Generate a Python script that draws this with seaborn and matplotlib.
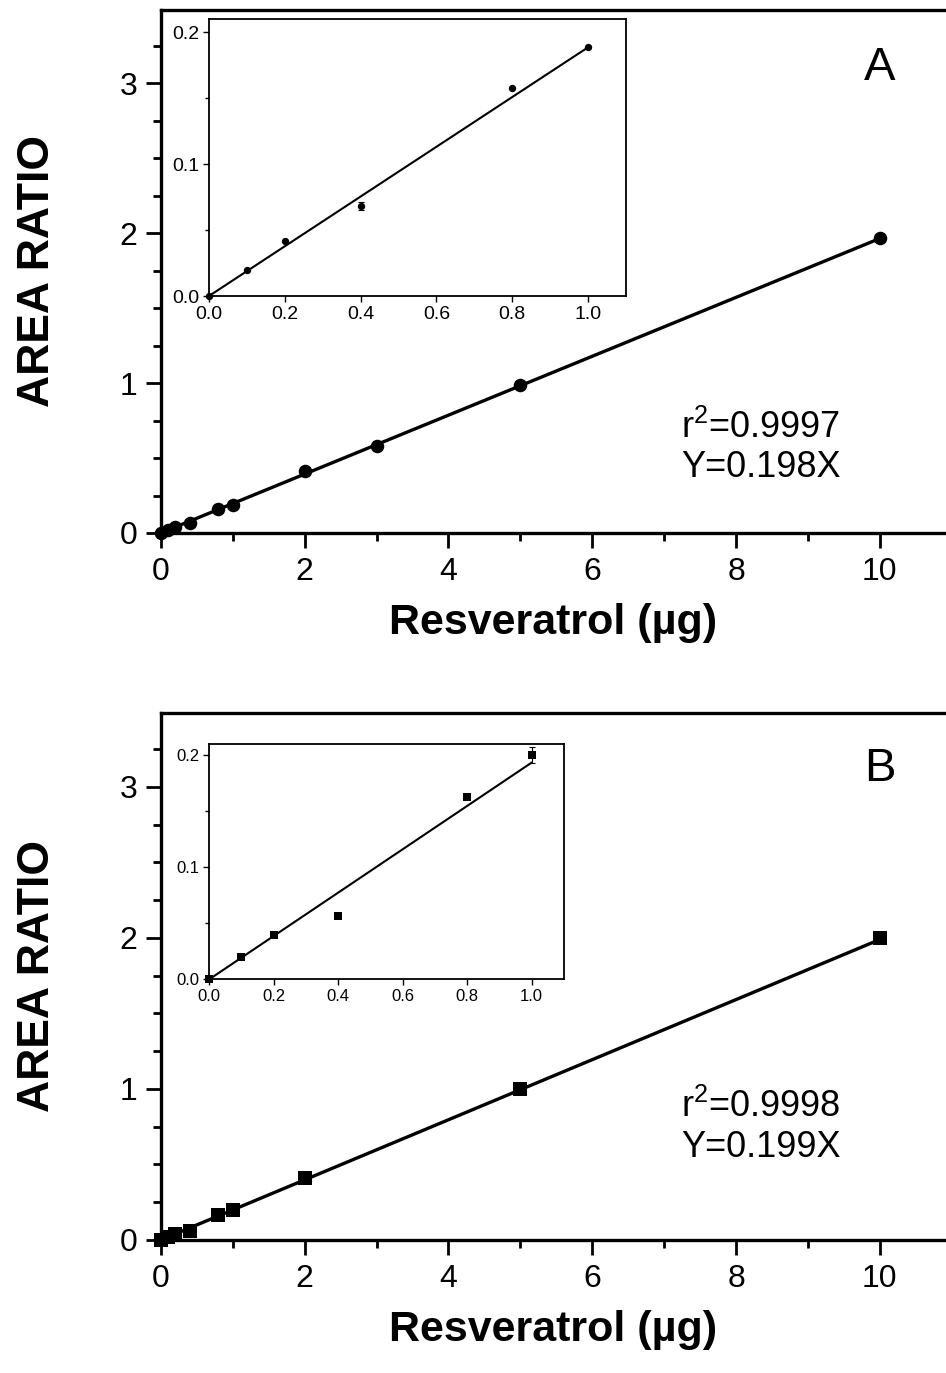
import numpy as np
import pandas as pd
import matplotlib
matplotlib.use("Agg")
import matplotlib.pyplot as plt
import seaborn as sns
from matplotlib.ticker import MultipleLocator, FormatStrFormatter

sns.set_theme(style="ticks")
plt.rcParams['font.family'] = ['Liberation Sans', 'DejaVu Sans']
plt.rcParams['mathtext.fontset'] = 'custom'
plt.rcParams['mathtext.rm'] = 'Liberation Sans'
for k in ['text.color', 'axes.labelcolor', 'xtick.color', 'ytick.color', 'axes.edgecolor']:
    plt.rcParams[k] = 'black'

# ---------------- data ----------------
conc = [0, 0.1, 0.2, 0.4, 0.8, 1.0, 2, 3, 5, 10]
ratio_A = [0, 0.020, 0.041, 0.068, 0.158, 0.1885, 0.413, 0.58, 0.987, 1.967]
conc_B = [0, 0.1, 0.2, 0.4, 0.8, 1.0, 2, 5, 10]
ratio_B = [0, 0.0197, 0.0397, 0.057, 0.1626, 0.200, 0.413, 1.0, 2.0]

inset_conc = [0, 0.1, 0.2, 0.4, 0.8, 1.0]
inset_A = [0, 0.020, 0.0414, 0.068, 0.158, 0.1885]
inset_A_err = [0, 0, 0, 0.003, 0, 0]
inset_B = [0, 0.0197, 0.0397, 0.057, 0.1626, 0.200]
inset_B_err = [0, 0, 0, 0, 0, 0.007]

fit_main_x = [0, 10]
fit_A_main_y = [0, 1.965]
fit_B_main_y = [0, 1.99]
fit_inset_x = [0, 1.0]
fit_A_inset_y = [0, 0.1885]
fit_B_inset_y = [0, 0.1935]

stats_A = ["r$^\\mathregular{2}$=0.9997", "Y=0.198X"]
stats_B = ["r$^\\mathregular{2}$=0.9998", "Y=0.199X"]
panel_labels = ["A", "B"]
xlabel = "Resveratrol (\u00b5g)"
ylabel = "AREA RATIO"

# ---------------- figure ----------------
fig = plt.figure(figsize=(9.46, 13.73), dpi=100)

def main_axes(rect, x, y, fx, fy, marker, stats, label, stat_y, lab_y):
    ax = fig.add_axes(rect)
    df = pd.DataFrame({"x": x, "y": y})
    sns.lineplot(x=fx, y=fy, ax=ax, color="black", lw=2.4)
    sns.scatterplot(data=df, x="x", y="y", ax=ax, color="black", marker=marker,
                    s=95, edgecolor="black", linewidth=0, clip_on=False, zorder=5)
    ax.set_xlim(0, 10.92)
    ax.set_ylim(0, 3.49)
    ax.xaxis.set_major_locator(MultipleLocator(2))
    ax.xaxis.set_minor_locator(MultipleLocator(1))
    ax.yaxis.set_major_locator(MultipleLocator(1))
    ax.yaxis.set_minor_locator(MultipleLocator(0.25))
    ax.tick_params(which="major", direction="out", length=11, width=2, labelsize=23, pad=6, colors="black")
    ax.tick_params(which="minor", direction="out", length=6, width=2)
    for s in ["left", "bottom", "top"]:
        ax.spines[s].set_linewidth(2.4)
        ax.spines[s].set_color("black")
    ax.spines["right"].set_visible(False)
    ax.set_xlabel(xlabel, fontsize=31, fontweight="bold", labelpad=12)
    ax.set_ylabel(ylabel, fontsize=32, fontweight="bold", labelpad=44)
    ax.text(7.24, stat_y[0], stats[0], fontsize=26, va="center", ha="left")
    ax.text(7.24, stat_y[1], stats[1], fontsize=26, va="center", ha="left")
    ax.text(10.0, lab_y, label, fontsize=34, va="center", ha="center")
    return ax

def inset_axes(rect, x, y, err, fx, fy, marker, fs, ms):
    ax = fig.add_axes(rect)
    sns.lineplot(x=fx, y=fy, ax=ax, color="black", lw=1.5)
    ax.errorbar(x, y, yerr=err, fmt="none", ecolor="black", elinewidth=0.8, capsize=2, capthick=0.8)
    sns.scatterplot(x=x, y=y, ax=ax, color="black", marker=marker, s=ms,
                    linewidth=0, clip_on=False, zorder=5)
    ax.set_xlim(0, 1.1)
    ax.set_ylim(0, 0.21)
    ax.xaxis.set_major_locator(MultipleLocator(0.2))
    ax.yaxis.set_major_locator(MultipleLocator(0.1))
    ax.yaxis.set_minor_locator(MultipleLocator(0.05))
    ax.xaxis.set_major_formatter(FormatStrFormatter("%.1f"))
    ax.yaxis.set_major_formatter(FormatStrFormatter("%.1f"))
    ax.tick_params(which="major", direction="out", length=4, width=1, labelsize=fs, pad=3, colors="black")
    ax.tick_params(which="minor", direction="out", length=3, width=1)
    for s in ax.spines.values():
        s.set_linewidth(1.3)
        s.set_color("black")
    ax.set_xlabel("")
    ax.set_ylabel("")
    return ax

main_axes([0.170, 0.6118, 0.830, 0.3810], conc, ratio_A, fit_main_x, fit_A_main_y,
          "o", stats_A, panel_labels[0], (0.70, 0.44), 3.10)
main_axes([0.170, 0.0969, 0.830, 0.3838], conc_B, ratio_B, fit_main_x, fit_B_main_y,
          "s", stats_B, panel_labels[1], (0.88, 0.61), 3.12)

inset_axes([0.2209, 0.7844, 0.4408, 0.2018], inset_conc, inset_A, inset_A_err,
           fit_inset_x, fit_A_inset_y, "o", 14, 28)
inset_axes([0.2209, 0.2866, 0.3753, 0.1715], inset_conc, inset_B, inset_B_err,
           fit_inset_x, fit_B_inset_y, "s", 12, 26)

fig.savefig("out.png", dpi=100)
